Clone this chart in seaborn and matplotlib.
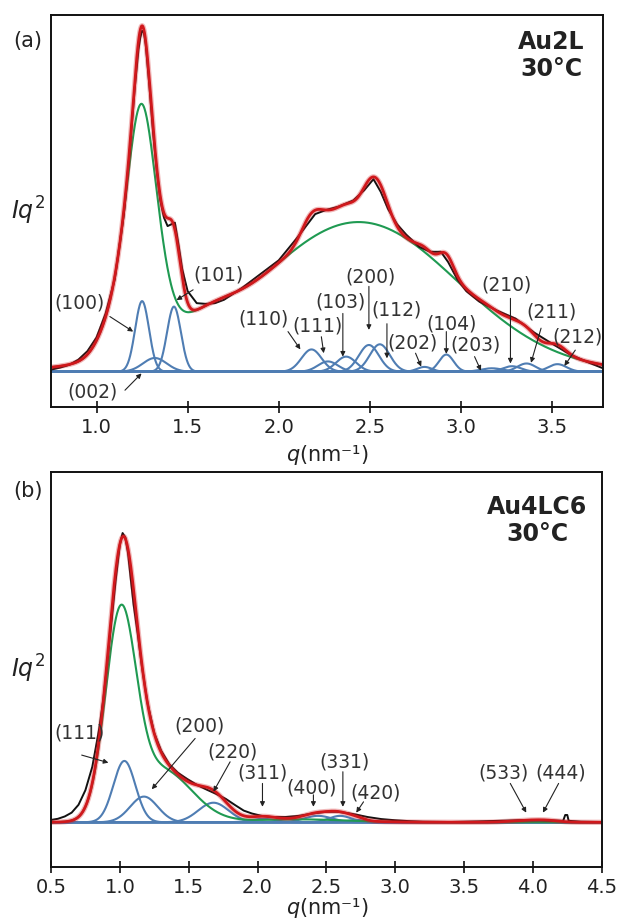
import numpy as np
import matplotlib
matplotlib.use("Agg")
import matplotlib.pyplot as plt
import seaborn as sns

# ---------------- Panel (a): Au2L, 30 °C ----------------
A_RANGE = [0.75, 3.78]
A_PEAK_LABELS = ["(100)", "(002)", "(101)", "(110)", "(111)", "(103)", "(200)",
                 "(112)", "(202)", "(104)", "(203)", "(210)", "(211)", "(212)"]
A_PEAK_CENTERS = [1.25, 1.32, 1.425, 2.18, 2.27, 2.37, 2.495, 2.555, 2.80, 2.92, 3.17, 3.28, 3.36, 3.53]
A_PEAK_HEIGHTS = [0.206, 0.04, 0.19, 0.065, 0.03, 0.044, 0.078, 0.08, 0.014, 0.05, 0.01, 0.016, 0.024, 0.022]
A_PEAK_WIDTHS = [0.038, 0.065, 0.038, 0.055, 0.055, 0.055, 0.055, 0.055, 0.04, 0.04, 0.06, 0.05, 0.05, 0.05]
# green background components (centre, height, sigma, lorentz fraction)
A_BG_CENTERS = [1.06, 1.245, 1.60, 2.44]
A_BG_HEIGHTS = [0.045, 0.74, 0.045, 0.435]
A_BG_WIDTHS = [0.07, 0.09, 0.15, 0.54]
A_BG_LORENTZ = [0.0, 0.3, 0.0, 0.0]
# measured data (black)
A_DATA_Q = [0.75, 0.80, 0.85, 0.90, 0.95, 1.00, 1.05, 1.10, 1.15, 1.18, 1.21, 1.23, 1.24, 1.25,
            1.26, 1.27, 1.29, 1.31, 1.33, 1.35, 1.37, 1.39, 1.41, 1.43, 1.45, 1.47, 1.50, 1.55,
            1.60, 1.65, 1.70, 1.80, 1.90, 2.00, 2.10, 2.20, 2.26, 2.33, 2.41, 2.47, 2.52,
            2.56, 2.60, 2.65, 2.70, 2.77, 2.83, 2.89, 2.93, 2.98, 3.03, 3.10, 3.20, 3.30,
            3.40, 3.50, 3.60, 3.70, 3.78]
A_DATA_I = [0.006, 0.012, 0.02, 0.035, 0.06, 0.10, 0.17, 0.27, 0.46, 0.63, 0.83, 0.94, 0.975, 0.995,
            0.99, 0.955, 0.835, 0.70, 0.59, 0.50, 0.45, 0.425, 0.43, 0.435, 0.37, 0.30, 0.235, 0.20,
            0.198, 0.20, 0.21, 0.245, 0.285, 0.325, 0.39, 0.46, 0.472, 0.482, 0.50, 0.53, 0.562,
            0.525, 0.475, 0.43, 0.40, 0.365, 0.35, 0.35, 0.32, 0.27, 0.235, 0.205, 0.178, 0.155,
            0.115, 0.082, 0.05, 0.027, 0.01]
A_TICKS = [1.0, 1.5, 2.0, 2.5, 3.0, 3.5]

# ---------------- Panel (b): Au4LC6, 30 °C ----------------
B_RANGE = [0.5, 4.5]
B_PEAK_LABELS = ["(111)", "(200)", "(220)", "(311)", "(400)", "(331)", "(420)", "(533)", "(444)"]
B_PEAK_CENTERS = [1.033, 1.175, 1.68, 2.04, 2.44, 2.60, 2.72, 3.95, 4.10]
B_PEAK_HEIGHTS = [0.21, 0.088, 0.067, 0.012, 0.022, 0.022, 0.008, 0.006, 0.005]
B_PEAK_WIDTHS = [0.08, 0.10, 0.11, 0.09, 0.10, 0.08, 0.06, 0.12, 0.09]
B_BG_CENTERS = [1.005, 1.30, 2.30]
B_BG_HEIGHTS = [0.67, 0.18, 0.01]
B_BG_WIDTHS = [0.11, 0.22, 0.35]
B_BG_LORENTZ = [0.0, 0.0, 0.0]
B_DATA_Q = [0.50, 0.55, 0.60, 0.65, 0.70, 0.75, 0.80, 0.85, 0.88, 0.91, 0.94, 0.97, 1.00,
            1.02, 1.04, 1.06, 1.08, 1.10, 1.13, 1.16, 1.20, 1.25, 1.30, 1.36, 1.42, 1.49,
            1.56, 1.63, 1.70, 1.77, 1.84, 1.90, 1.96, 2.03, 2.10, 2.20, 2.30, 2.40, 2.50,
            2.58, 2.66, 2.72, 2.80, 2.90, 3.00, 3.10, 3.20, 3.40, 3.60, 3.75, 3.90, 4.05,
            4.15, 4.22, 4.235, 4.25, 4.26, 4.35, 4.50]
B_DATA_I = [0.008, 0.012, 0.02, 0.033, 0.06, 0.11, 0.19, 0.32, 0.42, 0.55, 0.69, 0.83, 0.95,
            0.99, 0.975, 0.92, 0.83, 0.745, 0.645, 0.535, 0.41, 0.305, 0.245, 0.198, 0.17, 0.148,
            0.128, 0.112, 0.097, 0.08, 0.058, 0.04, 0.03, 0.022, 0.018, 0.018, 0.022, 0.03, 0.036,
            0.036, 0.031, 0.026, 0.018, 0.011, 0.007, 0.004, 0.002, 0.001, 0.003, 0.005, 0.007, 0.007,
            0.006, 0.005, 0.025, 0.025, 0.005, 0.002, 0.001]
B_TICKS = [0.5, 1.0, 1.5, 2.0, 2.5, 3.0, 3.5, 4.0, 4.5]

# ---------------- annotation layout (text pos, arrow tail, arrow tip) ----------------
A_ANNOT = [((0.907, 0.200), (1.073, 0.161), (1.201, 0.117)),
           ((0.977, -0.058), (1.156, -0.054), (1.247, -0.005)),
           ((1.671, 0.282), (1.530, 0.239), (1.439, 0.209)),
           ((1.918, 0.153), (2.051, 0.117), (2.119, 0.065)),
           ((2.214, 0.133), (2.234, 0.102), (2.247, 0.054)),
           ((2.339, 0.204), (2.352, 0.170), (2.352, 0.044)),
           ((2.504, 0.277), (2.495, 0.249), (2.495, 0.122)),
           ((2.645, 0.180), (2.594, 0.140), (2.594, 0.039)),
           ((2.735, 0.083), (2.751, 0.054), (2.782, 0.015)),
           ((2.951, 0.139), (2.920, 0.117), (2.920, 0.052)),
           ((3.080, 0.077), (3.075, 0.044), (3.110, 0.003)),
           ((3.253, 0.253), (3.272, 0.214), (3.272, 0.024)),
           ((3.495, 0.175), (3.440, 0.127), (3.385, 0.026)),
           ((3.639, 0.102), (3.628, 0.063), (3.568, 0.017))]
B_ANNOT = [((0.705, 0.307), (0.723, 0.230), (0.917, 0.204)),
           ((1.577, 0.330), (1.547, 0.287), (1.232, 0.113)),
           ((1.819, 0.242), (1.801, 0.207), (1.680, 0.105)),
           ((2.037, 0.168), (2.036, 0.133), (2.036, 0.053)),
           ((2.393, 0.119), (2.406, 0.094), (2.406, 0.053)),
           ((2.631, 0.205), (2.620, 0.173), (2.620, 0.053)),
           ((2.860, 0.099), (2.770, 0.070), (2.717, 0.033)),
           ((3.787, 0.168), (3.836, 0.133), (3.952, 0.033)),
           ((4.205, 0.168), (4.187, 0.133), (4.073, 0.033))]

BLUE = "#4f7db3"
GREEN = "#1f9a52"
RED = "#d0181c"
BLACK = "#111111"
TXT = "#333333"

sns.set_theme(style="white")
plt.rcParams["font.family"] = ["DejaVu Sans"]
plt.rcParams["mathtext.fontset"] = "dejavusans"


def component(q, c, h, s, eta=0.0):
    g = np.exp(-(q - c) ** 2 / (2 * s ** 2))
    gam = s * np.sqrt(2 * np.log(2))
    lor = 1.0 / (1.0 + ((q - c) / gam) ** 2)
    return h * ((1 - eta) * g + eta * lor)


def draw_panel(ax, rng, pc, ph, pw, bc, bh, bw, bl, dq, di, ticks, ylim):
    q = np.linspace(rng[0], rng[1], 1500)
    blues = [component(q, c, h, s) for c, h, s in zip(pc, ph, pw)]
    green = np.sum([component(q, c, h, s, e) for c, h, s, e in zip(bc, bh, bw, bl)], axis=0)
    fit = green + np.sum(blues, axis=0)
    for b in blues:
        sns.lineplot(x=q, y=b, ax=ax, color=BLUE, linewidth=1.5, estimator=None, sort=False)
    sns.lineplot(x=q, y=green, ax=ax, color=GREEN, linewidth=1.5, estimator=None, sort=False)
    sns.lineplot(x=np.array(dq), y=np.array(di), ax=ax, color=BLACK, linewidth=1.4,
                 estimator=None, sort=False)
    sns.lineplot(x=q, y=fit, ax=ax, color=RED, linewidth=3.8, alpha=0.3, estimator=None, sort=False)
    sns.lineplot(x=q, y=fit, ax=ax, color=RED, linewidth=2.0, estimator=None, sort=False)
    ax.set_xlim(rng)
    ax.set_ylim(ylim)
    ax.set_xticks(ticks)
    ax.set_xticklabels([f"{t:.1f}" for t in ticks])
    ax.set_yticks([])
    ax.tick_params(axis="x", direction="inout", length=8, width=1.2, labelsize=14,
                   pad=4, colors="#111111", labelcolor="#222222", bottom=True)
    for sp in ax.spines.values():
        sp.set_color("#111111")
        sp.set_linewidth(1.4)
        sp.set_visible(True)
    ax.set_ylabel(r"$Iq^2$", rotation=0, fontsize=17, color="#222222", ha="center", va="center")
    ax.yaxis.set_label_coords(-0.042, 0.5)
    ax.set_xlabel("")


def annotate(ax, labels, annots):
    for lab, (t, tail, tip) in zip(labels, annots):
        ax.text(t[0], t[1], lab, fontsize=13.5, color=TXT, ha="center", va="center")
        ax.annotate("", xy=tip, xytext=tail,
                    arrowprops=dict(arrowstyle="-|>", lw=0.8, color="#222222",
                                    mutation_scale=7, shrinkA=0, shrinkB=0))


fig = plt.figure(figsize=(6.19, 9.21), dpi=100)
axA = fig.add_axes([51 / 619, 1 - 407 / 921, 552 / 619, 392 / 921])
axB = fig.add_axes([51 / 619, 1 - 866.7 / 921, 550.7 / 619, 395 / 921])

draw_panel(axA, A_RANGE, A_PEAK_CENTERS, A_PEAK_HEIGHTS, A_PEAK_WIDTHS,
           A_BG_CENTERS, A_BG_HEIGHTS, A_BG_WIDTHS, A_BG_LORENTZ,
           A_DATA_Q, A_DATA_I, A_TICKS, (-0.103, 1.041))
draw_panel(axB, B_RANGE, B_PEAK_CENTERS, B_PEAK_HEIGHTS, B_PEAK_WIDTHS,
           B_BG_CENTERS, B_BG_HEIGHTS, B_BG_WIDTHS, B_BG_LORENTZ,
           B_DATA_Q, B_DATA_I, B_TICKS, (-0.152, 1.2))
annotate(axA, A_PEAK_LABELS, A_ANNOT)
annotate(axB, B_PEAK_LABELS, B_ANNOT)

axA.text(0.906, 0.962, "Au2L\n30°C", transform=axA.transAxes, ha="center", va="top",
         fontsize=17, fontweight="bold", color="#222222", linespacing=1.15)
axB.text(0.883, 0.941, "Au4LC6\n30°C", transform=axB.transAxes, ha="center", va="top",
         fontsize=17, fontweight="bold", color="#222222", linespacing=1.15)

# x-axis titles placed in figure pixels
fig.text(327 / 619, 1 - 467 / 921, r"$q$(nm⁻¹)", fontsize=15, color="#222222",
         ha="center", va="bottom")
fig.text(327 / 619, 1 - 920 / 921, r"$q$(nm⁻¹)", fontsize=15, color="#222222",
         ha="center", va="bottom")

fig.text(28 / 619, 1 - 41 / 921, "(a)", fontsize=15, ha="center", va="center", color="#222222")
fig.text(28 / 619, 1 - 491 / 921, "(b)", fontsize=15, ha="center", va="center", color="#222222")

fig.savefig("out.png", dpi=100)
